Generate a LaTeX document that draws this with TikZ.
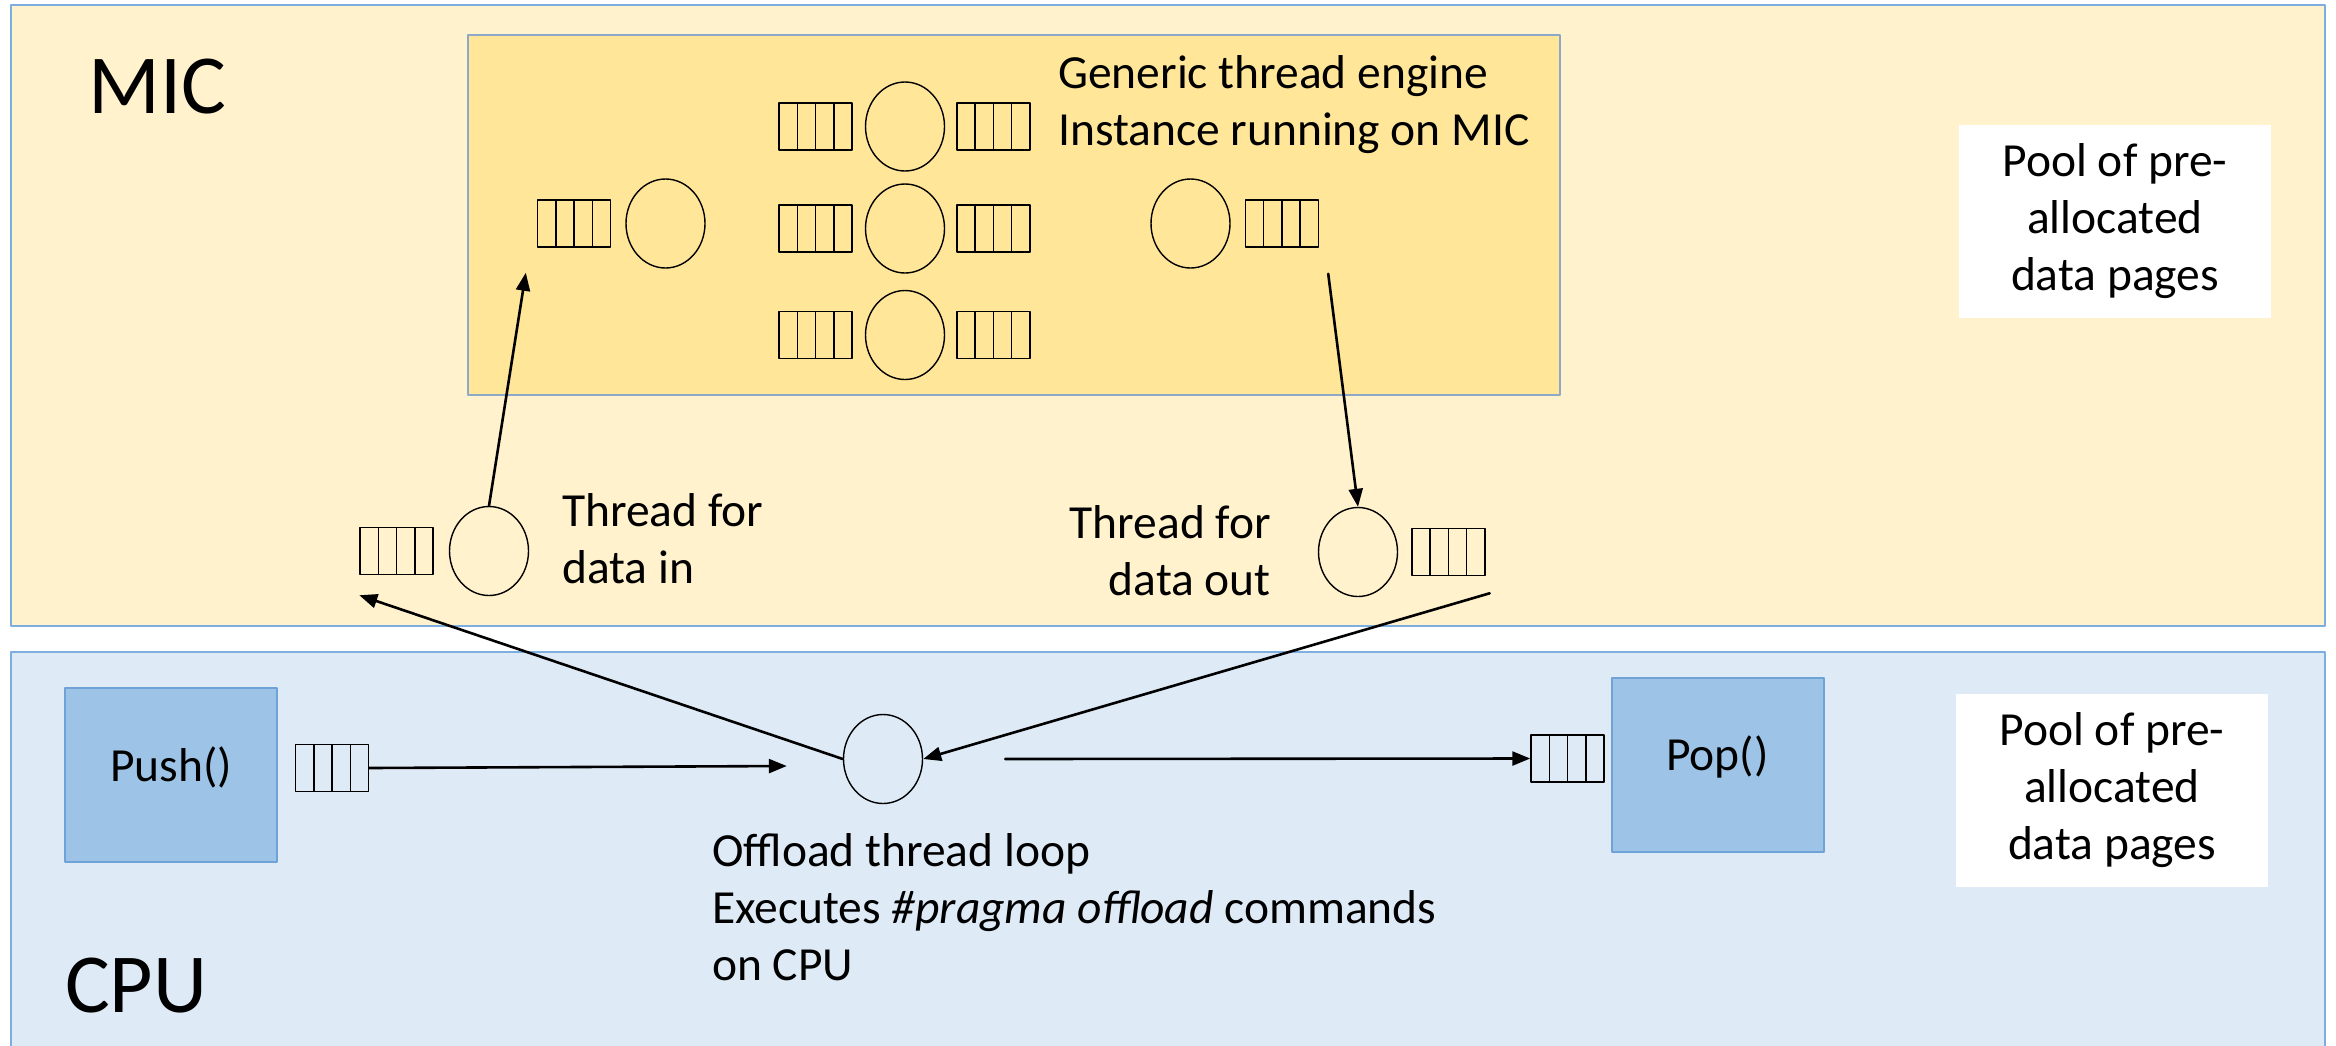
\documentclass[tikz,border=0pt]{standalone}
\usepackage{fontspec}
\setmainfont{Carlito}
\usetikzlibrary{arrows.meta}
\usetikzlibrary{calc}
\usetikzlibrary{positioning}
\usetikzlibrary{shapes.geometric}

\definecolor{micfill}{HTML}{FFF2CC}
\definecolor{enginefill}{HTML}{FFE699}
\definecolor{cpufill}{HTML}{DEEBF7}
\definecolor{callfill}{HTML}{9DC3E6}
\definecolor{panelline}{HTML}{7DAEE0}
\definecolor{engineline}{HTML}{8EA9C8}
\definecolor{callline}{HTML}{6FA3D8}

\newcommand{\txt}{\fontsize{47.5}{57}\selectfont}
\newcommand{\bigtxt}{\fontsize{84}{100}\selectfont}

\tikzset{
  worker/.style={draw, ellipse, line width=1.4pt, minimum width=79pt, minimum height=89pt, inner sep=0pt},
  queue/.style={draw, line width=1.5pt, minimum width=73pt, minimum height=47pt, inner sep=0pt,
    path picture={\foreach \k in {1,2,3}
      \draw[line width=1.5pt] ($(path picture bounding box.south west)!\k/4!(path picture bounding box.south east)$)
        -- ($(path picture bounding box.north west)!\k/4!(path picture bounding box.north east)$);}},
  callbox/.style={draw=callline, fill=callfill, line width=2pt, minimum width=212pt, minimum height=174pt,
    text depth=22pt, font=\txt},
  poolbox/.style={fill=white, minimum width=312pt, minimum height=193pt, inner sep=0pt, align=center, font=\txt},
  note/.style={font=\txt, align=left, inner sep=0pt},
  flow/.style={->, line width=2.6pt},
}

\begin{document}
\begin{tikzpicture}[x=1pt,y=-1pt,line cap=round,line join=round,>={Triangle[length=18pt,width=14pt]}]
\useasboundingbox (0,0) rectangle (2336,1045);
\clip (0,0) rectangle (2336,1045);

% MIC and CPU panels
\draw[panelline, fill=micfill, line width=2pt] (11,5) rectangle (2325,626);
\draw[panelline, fill=cpufill, line width=2pt] (11,652) rectangle (2325,1060);
\node[font=\bigtxt, anchor=base west, inner sep=0pt] (mic) at (88,113) {MIC};
\node[font=\bigtxt, anchor=base west, inner sep=0pt] (cpu) at (65,1012) {CPU};

% thread engine running on the MIC
\node[draw=engineline, fill=enginefill, line width=1.5pt, minimum width=1092pt, minimum height=360pt, inner sep=0pt] (engine) at (1014,215) {};
\node[note, anchor=base west] (enginetxt) at (1058,145) {Generic thread engine\\Instance running on MIC};

\node[worker] (w0) at (665.5,223.5) {};
\node[queue, left=14pt of w0] (w0q) {};
\foreach \i/\y in {1/126.5,2/228.5,3/335}{
  \node[worker] (w\i) at (905,\y) {};
  \node[queue, left=12pt of w\i] (w\i in) {};
  \node[queue, right=11pt of w\i] (w\i out) {};
}
\node[worker] (w4) at (1190.5,223.5) {};
\node[queue, right=14pt of w4] (w4q) {};

% transfer threads
\node[worker] (tin) at (489,551) {};
\node[queue, left=15pt of tin] (tinq) {};
\node[note, anchor=base west] (tintxt) at (562,583) {Thread for\\data in};
\node[worker] (tout) at (1358,552) {};
\node[queue, right=13pt of tout] (toutq) {};
\node[note, anchor=base east, align=right] (touttxt) at (1271,595) {Thread for\\data out};

\node[poolbox] (micpool) at (2115,221.5) {Pool of pre-\\allocated\\data pages};

% CPU side
\node[callbox] (push) at (171,775) {Push()};
\node[queue] (pushq) at (332,768) {};
\node[worker] (offload) at (883,759) {};
\node[note, anchor=base west] (offtxt) at (712,980) {Offload thread loop\\Executes \textit{\#pragma offload} commands\\on CPU};
\node[callbox] (pop) at (1717.5,764.5) {Pop()};
\node[queue] (popq) at (1567.5,758.5) {};

\node[poolbox] (cpupool) at (2112,790.5) {Pool of pre-\\allocated\\data pages};

% data flow
\draw[flow] (tin.north) -- ([xshift=-11pt,yshift=-25pt]w0q.south west);
\draw[flow] ([xshift=9pt,yshift=-26pt]w4q.south east) -- (tout.north);
\draw[flow] (offload.west) -- ([yshift=-20pt]tinq.south west);
\draw[flow] ([xshift=4pt,yshift=-17pt]toutq.south east) -- (offload.east);
\draw[flow] (pushq.east) -- ([xshift=-56pt,yshift=-7pt]offload.west);
\draw[flow] ([xshift=82pt]offload.east) -- (popq.west);
\end{tikzpicture}
\end{document}
